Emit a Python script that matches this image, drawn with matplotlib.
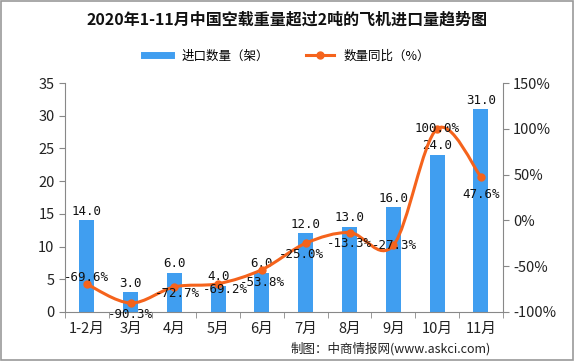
import matplotlib.pyplot as plt
from matplotlib.path import Path
from matplotlib.patches import PathPatch, Rectangle
from matplotlib.lines import Line2D
from matplotlib.ticker import FixedLocator

plt.rcParams['font.family'] = ['Noto Sans CJK SC', 'DejaVu Sans']

months = ["1-2月", "3月", "4月", "5月", "6月", "7月", "8月", "9月", "10月", "11月"]
qty = [14, 3, 6, 4, 6, 12, 13, 16, 24, 31]
yoy = [-69.6, -90.3, -72.7, -69.2, -53.8, -25.0, -13.3, -27.3, 100.0, 47.6]

blue = "#409ef0"
orange = "#f5631c"

fig = plt.figure(figsize=(5.74, 3.61), dpi=100)
ax = fig.add_axes([0.113, 0.136, 0.763, 0.634])
ax2 = ax.twinx()

x = list(range(len(months)))
ax.bar(x, qty, width=0.34, color=blue, zorder=2)
ax.set_xlim(-0.5, len(months) - 0.5)
ax.set_ylim(0, 35)
ax.set_yticks(range(0, 36, 5))
ax2.set_ylim(-100, 150)
ax2.set_yticks(range(-100, 151, 50))
ax2.set_yticklabels([f"{v}%" for v in range(-100, 151, 50)])

for a in (ax, ax2):
    for s in a.spines.values():
        s.set_visible(False)
    a.tick_params(labelsize=10.5, colors="#222222", length=4, width=0.8)
ax.spines["left"].set_visible(True)
ax.spines["left"].set_color("#888888")
ax.spines["bottom"].set_visible(True)
ax.spines["bottom"].set_color("#888888")
ax2.spines["right"].set_visible(True)
ax2.spines["right"].set_color("#888888")
ax.tick_params(axis="y", color="#888888")
ax2.tick_params(axis="y", color="#888888")

ax.set_xticks(x)
ax.set_xticklabels(months)
ax.tick_params(axis="x", length=0, pad=7)
ax.xaxis.set_minor_locator(FixedLocator([i - 0.5 for i in range(len(months) + 1)]))
ax.tick_params(axis="x", which="minor", length=4, color="#888888")

# smooth line (Catmull-Rom -> cubic bezier)
pts = list(zip(x, yoy))
verts = [pts[0]]
codes = [Path.MOVETO]
n = len(pts)
for i in range(n - 1):
    p0 = pts[i - 1] if i > 0 else pts[i]
    p1 = pts[i]
    p2 = pts[i + 1]
    p3 = pts[i + 2] if i + 2 < n else pts[i + 1]
    c1 = (p1[0] + (p2[0] - p0[0]) / 6, p1[1] + (p2[1] - p0[1]) / 6)
    c2 = (p2[0] - (p3[0] - p1[0]) / 6, p2[1] - (p3[1] - p1[1]) / 6)
    verts += [c1, c2, p2]
    codes += [Path.CURVE4] * 3
ax2.add_patch(PathPatch(Path(verts, codes), fill=False, edgecolor=orange, lw=2.2, zorder=3))
ax2.plot(x, yoy, "o", color=orange, ms=5, zorder=4)

for i, v in enumerate(qty):
    ax.text(i, v + 0.4, f"{v:.1f}", ha="center", va="bottom", fontsize=9, color="#111111",
            family="DejaVu Sans Mono", zorder=5)

offsets = [(0, 5), (0, -8), (2, -5), (5, -4), (0, -9), (-3, -8), (0, -8), (1, 0), (0, 0), (0, -13)]
for i, v in enumerate(yoy):
    dx, dy = offsets[i]
    ax2.annotate(f"{v:.1f}%", (i, v), xytext=(dx, dy), textcoords="offset points",
                 ha="center", va="center", fontsize=9, color="#111111",
                 family="DejaVu Sans Mono", zorder=5)

fig.text(0.5, 0.945, "2020年1-11月中国空载重量超过2吨的飞机进口量趋势图", ha="center", va="center",
         fontsize=11.5, fontweight="bold", color="#111111")

h1 = Line2D([], [], color=blue, lw=5)
h2 = Line2D([], [], color=orange, lw=2.2, marker="o", ms=5)
fig.legend([h1, h2], ["进口数量（架）", "数量同比（%）"], loc="center", bbox_to_anchor=(0.5, 0.845),
           ncol=2, frameon=False, fontsize=9, handlelength=2.2, columnspacing=3)

fig.text(0.855, 0.035, "制图：中商情报网(www.askci.com)", ha="right", va="center", fontsize=9,
         color="#222222")

fig.patches.append(Rectangle((0.001, 0.002), 0.997, 0.995, transform=fig.transFigure,
                             fill=False, edgecolor="#999999", lw=1.2))

fig.savefig("out.png", dpi=100)
